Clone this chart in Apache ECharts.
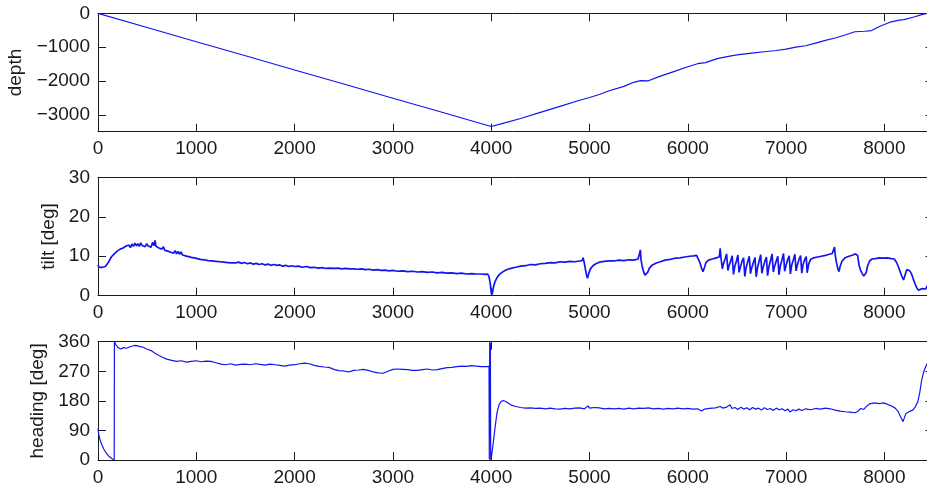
<!DOCTYPE html>
<html>
<head>
<meta charset="utf-8">
<style>
  html, body { margin: 0; padding: 0; background: #ffffff; }
  #chart { width: 927px; height: 488px; }
</style>
<script src="https://cdn.jsdelivr.net/npm/echarts@6/dist/echarts.min.js"></script>
</head>
<body>
<div id="chart"></div>
<script>
// Dive record: time [s] against depth, tilt and heading.
const timeTicks = [0, 1000, 2000, 3000, 4000, 5000, 6000, 7000, 8000];
const depthTicks = [-3000, -2000, -1000, 0];
const tiltTicks = [0, 10, 20, 30];
const headingTicks = [0, 90, 180, 270, 360];

// [time, depth]
const depthReadings = [
  [0, 0], [500, -420], [1000, -840], [1500, -1255], [2000, -1675], [2500, -2090],
  [3000, -2510], [3500, -2925], [4000, -3345], [4100, -3270], [4300, -3110],
  [4500, -2930], [4700, -2750], [4900, -2570], [5000, -2490], [5100, -2400],
  [5200, -2290], [5350, -2160], [5450, -2040], [5520, -1990], [5600, -1995],
  [5700, -1880], [5850, -1730], [6000, -1580], [6100, -1490], [6180, -1460],
  [6300, -1340], [6400, -1280], [6500, -1230], [6650, -1180], [6800, -1130],
  [6900, -1100], [7000, -1060], [7100, -1000], [7200, -960], [7300, -880],
  [7400, -800], [7500, -730], [7600, -640], [7700, -545], [7800, -530],
  [7870, -510], [7950, -390], [8050, -270], [8150, -200], [8200, -185],
  [8300, -110], [8380, -40], [8440, 0]
];

// [time, tilt in degrees]
const tiltReadings = [
  [0, 7.8], [10, 7.2], [20, 7.5], [30, 6.9], [45, 7.2], [60, 6.8], [75, 7.4], [90, 7.6],
  [105, 8.4], [120, 8.9], [135, 9.8], [150, 9.5], [165, 10.6], [180, 10.4], [195, 11.3],
  [210, 10.9], [225, 11.8], [240, 11.4], [255, 12.1], [270, 11.7], [285, 12.6], [300, 12.1],
  [315, 12.8], [330, 12.2], [345, 13.1], [360, 12.5], [375, 13.3], [390, 12.6], [405, 13.2],
  [420, 12.5], [435, 13.4], [450, 12.7], [465, 13.1], [480, 12.4], [495, 13.2], [510, 12.6],
  [525, 12.9], [540, 12.3], [555, 13.5], [570, 12.7], [580, 14.0], [590, 12.5], [605, 12.9],
  [620, 12.1], [635, 12.6], [650, 11.8], [665, 12.4], [680, 11.5], [695, 12.0], [710, 11.3],
  [725, 11.8], [740, 11.0], [755, 11.5], [770, 10.8], [785, 11.4], [800, 10.6], [815, 11.2],
  [830, 10.5], [845, 11.1], [860, 10.3], [875, 10.8], [890, 10.1], [905, 10.6], [920, 9.9],
  [935, 10.4], [950, 9.7], [965, 10.2], [980, 9.6], [995, 10.1], [1010, 9.4], [1025, 9.9],
  [1040, 9.2], [1060, 9.7], [1080, 9.1], [1100, 9.5], [1120, 8.9], [1140, 9.3], [1160, 8.8],
  [1180, 9.1], [1200, 8.7], [1220, 9.0], [1240, 8.6], [1260, 8.9], [1280, 8.5], [1300, 8.7],
  [1320, 8.4], [1340, 8.6], [1360, 8.3], [1380, 8.5], [1400, 8.3], [1430, 8.5], [1460, 8.2],
  [1490, 8.4], [1520, 8.1], [1550, 8.3], [1580, 8.0], [1610, 8.2], [1640, 7.9], [1670, 8.1],
  [1700, 7.8], [1730, 8.0], [1760, 7.7], [1790, 7.9], [1820, 7.7], [1850, 7.8], [1880, 7.5],
  [1910, 7.7], [1940, 7.4], [1970, 7.6], [2000, 7.4], [2040, 7.5], [2080, 7.2], [2120, 7.4],
  [2160, 7.1], [2200, 7.2], [2240, 7.0], [2280, 7.1], [2320, 6.9], [2360, 7.0], [2400, 6.9],
  [2440, 7.0], [2480, 6.8], [2520, 6.9], [2560, 6.8], [2600, 6.8], [2640, 6.7], [2680, 6.8],
  [2720, 6.6], [2760, 6.7], [2800, 6.5], [2840, 6.6], [2880, 6.4], [2920, 6.5], [2960, 6.3],
  [3000, 6.4], [3050, 6.2], [3100, 6.3], [3150, 6.1], [3200, 6.2], [3250, 6.0], [3300, 6.1],
  [3350, 5.9], [3400, 6.0], [3450, 5.8], [3500, 5.9], [3550, 5.7], [3600, 5.8], [3650, 5.6],
  [3700, 5.7], [3750, 5.5], [3800, 5.6], [3850, 5.5], [3900, 5.5], [3940, 5.4], [3965, 5.5],
  [3980, 4.6], [3992, 2.8], [4000, 1.0], [4006, 0.2], [4014, 0.9], [4025, 2.4], [4040, 3.6],
  [4060, 4.6], [4085, 5.4], [4110, 5.9], [4140, 6.4], [4170, 6.7], [4210, 7.0], [4250, 7.2],
  [4300, 7.5], [4350, 7.6], [4400, 7.9], [4450, 7.8], [4500, 8.1], [4550, 8.2], [4600, 8.4],
  [4650, 8.3], [4700, 8.6], [4750, 8.5], [4800, 8.7], [4850, 8.6], [4900, 8.8], [4925, 8.9],
  [4935, 9.6], [4945, 8.6], [4958, 6.8], [4970, 5.2], [4980, 4.4], [4992, 5.6], [5010, 6.8],
  [5035, 7.6], [5065, 8.1], [5100, 8.5], [5150, 8.7], [5200, 8.8], [5250, 8.8], [5300, 9.0],
  [5350, 8.9], [5400, 9.1], [5450, 9.0], [5495, 9.3], [5512, 9.4], [5518, 11.6], [5524, 9.2],
  [5535, 7.6], [5550, 6.1], [5565, 5.2], [5578, 4.8], [5592, 5.9], [5610, 7.0], [5640, 7.8],
  [5680, 8.3], [5720, 8.6], [5770, 9.0], [5820, 9.2], [5870, 9.5], [5920, 9.6], [5970, 9.8],
  [6020, 10.0], [6060, 10.1], [6090, 10.2], [6100, 10.7], [6110, 9.8], [6125, 8.3],
  [6140, 7.0], [6155, 6.1], [6168, 7.0], [6185, 8.4], [6210, 9.0], [6250, 9.3], [6290, 9.6],
  [6320, 9.8], [6330, 12.0], [6338, 9.6],
  [6352, 6.8], [6362, 8.0], [6380, 9.3], [6395, 10.6], [6408, 6.4], [6420, 7.6], [6438, 9.0],
  [6452, 10.1], [6465, 5.4], [6478, 7.4], [6495, 8.8], [6510, 10.3], [6522, 5.9], [6535, 7.2],
  [6552, 8.7], [6568, 9.6], [6580, 4.9], [6593, 7.0], [6610, 8.6], [6626, 10.0], [6638, 5.6],
  [6651, 7.1], [6668, 8.5], [6684, 9.7], [6696, 4.8], [6709, 7.0], [6726, 8.8], [6742, 10.4],
  [6754, 5.7], [6767, 7.2], [6784, 8.7], [6800, 9.8], [6812, 5.1], [6825, 7.3], [6842, 8.9],
  [6858, 10.6], [6870, 6.0], [6883, 7.4], [6900, 8.8], [6916, 10.0], [6928, 5.3], [6941, 7.5],
  [6958, 9.0], [6974, 10.7], [6986, 6.2], [6999, 7.6], [7016, 9.1], [7032, 10.1], [7044, 5.5],
  [7057, 7.7], [7074, 9.1], [7090, 10.5], [7102, 6.3], [7115, 7.8], [7132, 9.2], [7148, 10.2],
  [7160, 5.7], [7173, 7.9], [7190, 9.2], [7205, 9.9], [7215, 5.8], [7230, 8.0], [7250, 9.2],
  [7280, 9.6], [7320, 9.8], [7360, 10.0], [7400, 10.2], [7440, 10.5], [7470, 10.7],
  [7485, 11.0], [7493, 12.3], [7500, 10.4], [7512, 8.5], [7525, 7.0], [7538, 6.1], [7552, 7.6],
  [7570, 8.8], [7600, 9.6], [7640, 10.0], [7680, 10.3], [7705, 10.6], [7718, 11.1],
  [7728, 10.2], [7742, 7.8], [7758, 6.4], [7775, 5.6], [7790, 5.0], [7803, 4.8], [7815, 5.8],
  [7830, 7.6], [7850, 8.8], [7875, 9.3], [7910, 9.4], [7950, 9.6], [7990, 9.5], [8030, 9.6],
  [8070, 9.4], [8100, 9.3], [8125, 8.4], [8145, 7.2], [8162, 6.0], [8180, 4.8], [8195, 4.0],
  [8210, 5.2], [8228, 6.6], [8243, 6.9], [8258, 6.3], [8275, 5.6], [8292, 4.4], [8311, 3.1],
  [8328, 2.1], [8345, 1.4], [8365, 1.3], [8385, 1.8], [8400, 2.1], [8420, 1.7], [8440, 2.6],
  [8460, 2.2], [8480, 2.5]
];

// [time, heading in degrees], wrapping at 0/360
const headingReadings = [
  [0, 96], [8, 78], [20, 62], [40, 46], [60, 33], [80, 23], [110, 12], [140, 5], [158, 1],
  [165, 0], [167, 360], [180, 352], [200, 343], [230, 338], [260, 342], [290, 340],
  [320, 344], [350, 347], [380, 349], [420, 346], [460, 343], [500, 337], [540, 333],
  [580, 325], [620, 318], [660, 312], [700, 307], [750, 303], [800, 300], [850, 302],
  [900, 298], [950, 300], [1000, 302], [1050, 299], [1100, 301], [1150, 300], [1200, 296],
  [1250, 292], [1300, 290], [1350, 293], [1400, 289], [1450, 291], [1500, 292], [1550, 290],
  [1600, 293], [1650, 291], [1700, 289], [1750, 292], [1800, 290], [1850, 288], [1900, 286],
  [1950, 289], [2000, 290], [2050, 293], [2100, 295], [2150, 293], [2200, 288], [2250, 285],
  [2300, 283], [2350, 282], [2400, 276], [2450, 272], [2500, 271], [2550, 268], [2600, 273],
  [2650, 274], [2700, 276], [2750, 273], [2800, 268], [2850, 265], [2900, 264], [2950, 270],
  [3000, 276], [3050, 277], [3100, 276], [3150, 275], [3200, 273], [3250, 273], [3300, 275],
  [3350, 277], [3400, 274], [3450, 275], [3500, 278], [3550, 281], [3600, 282], [3650, 284],
  [3700, 286], [3750, 285], [3800, 287], [3850, 286], [3900, 284], [3950, 284], [3978, 285],
  [3981, 2], [3985, 358], [3989, 348], [3992, 357], [3995, 1], [4005, 15], [4020, 50],
  [4040, 100], [4060, 145], [4080, 168], [4100, 178], [4125, 181], [4160, 176], [4200, 168],
  [4250, 163], [4300, 160], [4350, 158], [4400, 159], [4450, 157], [4500, 158], [4550, 156],
  [4600, 158], [4650, 156], [4700, 155], [4750, 157], [4800, 156], [4850, 158], [4900, 159],
  [4950, 156], [4985, 165], [5000, 158], [5050, 160], [5100, 159], [5150, 156], [5200, 157],
  [5250, 156], [5300, 157], [5350, 155], [5400, 158], [5450, 156], [5500, 158], [5550, 157],
  [5600, 159], [5650, 156], [5700, 157], [5750, 155], [5800, 157], [5850, 156], [5900, 158],
  [5950, 156], [6000, 157], [6050, 155], [6100, 156], [6140, 149], [6170, 155], [6220, 157],
  [6280, 159], [6330, 163], [6360, 158], [6400, 162], [6430, 168], [6450, 157], [6480, 160],
  [6510, 154], [6540, 161], [6570, 155], [6600, 159], [6630, 153], [6660, 160], [6690, 155],
  [6720, 158], [6750, 152], [6780, 159], [6810, 154], [6840, 157], [6870, 151], [6900, 158],
  [6930, 153], [6960, 156], [6990, 150], [7020, 155], [7040, 146], [7070, 153], [7100, 150],
  [7130, 155], [7160, 151], [7200, 156], [7250, 153], [7300, 157], [7350, 155], [7400, 158],
  [7450, 156], [7500, 152], [7550, 149], [7600, 147], [7650, 146], [7700, 144], [7730, 148],
  [7760, 157], [7790, 154], [7820, 164], [7850, 171], [7900, 174], [7950, 172], [7990, 174],
  [8030, 170], [8070, 165], [8110, 158], [8140, 148], [8165, 132], [8190, 117], [8205, 130],
  [8220, 142], [8255, 148], [8290, 152], [8315, 162], [8340, 177], [8360, 205], [8380, 243],
  [8400, 268], [8420, 284], [8445, 298]
];

const TIME_MAX = 8500;
const FONT = '"Liberation Sans", Arial, Helvetica, sans-serif';
const INK = '#1a1a1a';
const LINE_BLUE = '#1414f0';

const chart = echarts.init(document.getElementById('chart'), null, { renderer: 'canvas' });

const panelDefs = [
  { label: 'depth', readings: depthReadings, min: -3500, max: 0, ticks: depthTicks, top: 13.3, nameGap: 63, width: 1.2 },
  { label: 'tilt [deg]', readings: tiltReadings, min: 0, max: 30, ticks: tiltTicks, top: 177.3, nameGap: 29, width: 1.7 },
  { label: 'heading [deg]', readings: headingReadings, min: 0, max: 360, ticks: headingTicks, top: 341.7, nameGap: 40, width: 1.2 }
];

const fmt = v => String(v).replace('-', '\u2212');
// axis frame line drawn at the plot edge, never at the zero crossing
const frame = { show: true, onZero: false, lineStyle: { color: INK, width: 1 } };
const inwardTicks = values => ({ show: true, inside: true, length: 8, customValues: values, lineStyle: { color: INK, width: 1 } });
const labelStyle = values => ({ customValues: values, margin: 8, fontSize: 19, fontFamily: FONT, color: INK, formatter: fmt });

const grid = [], xAxis = [], yAxis = [], series = [];
panelDefs.forEach((p, i) => {
  grid.push({ left: 98, top: p.top, width: 835.5, height: 118.4, outerBoundsMode: 'none', containLabel: false });
  xAxis.push({
    type: 'value', gridIndex: i, position: 'bottom', min: 0, max: TIME_MAX,
    axisLine: frame, splitLine: { show: false },
    axisTick: inwardTicks(timeTicks), axisLabel: labelStyle(timeTicks)
  });
  xAxis.push({
    type: 'value', gridIndex: i, position: 'top', min: 0, max: TIME_MAX,
    axisLine: frame, splitLine: { show: false },
    axisTick: inwardTicks(timeTicks), axisLabel: { show: false }
  });
  yAxis.push({
    type: 'value', gridIndex: i, position: 'left', min: p.min, max: p.max,
    name: p.label, nameLocation: 'middle', nameRotate: 90, nameGap: p.nameGap,
    nameTextStyle: { fontSize: 19, fontFamily: FONT, color: INK },
    axisLine: frame, splitLine: { show: false },
    axisTick: inwardTicks(p.ticks), axisLabel: labelStyle(p.ticks)
  });
  yAxis.push({
    type: 'value', gridIndex: i, position: 'right', min: p.min, max: p.max,
    axisLine: frame, splitLine: { show: false },
    axisTick: inwardTicks(p.ticks), axisLabel: { show: false }
  });
  series.push({
    type: 'line', xAxisIndex: i * 2, yAxisIndex: i * 2, data: p.readings,
    showSymbol: false, symbol: 'none', smooth: false, animation: false,
    lineStyle: { color: LINE_BLUE, width: p.width }
  });
});

chart.setOption({
  backgroundColor: '#ffffff',
  animation: false,
  grid, xAxis, yAxis, series
});
</script>
</body>
</html>
